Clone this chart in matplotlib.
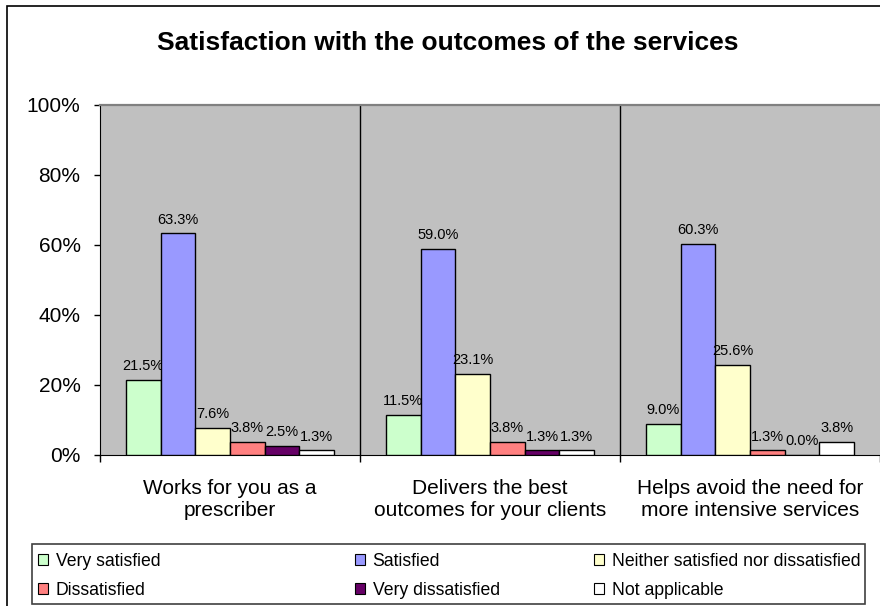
import numpy as np
import matplotlib
matplotlib.use('Agg')
import matplotlib.pyplot as plt
from matplotlib.ticker import PercentFormatter
from matplotlib.patches import Rectangle, Patch

plt.rcParams['font.family'] = ['Liberation Sans', 'DejaVu Sans']

#%% Data
categories = ['Works for you as a\nprescriber',
              'Delivers the best\noutcomes for your clients',
              'Helps avoid the need for\nmore intensive services']
series = ['Very satisfied', 'Satisfied', 'Neither satisfied nor dissatisfied',
          'Dissatisfied', 'Very dissatisfied', 'Not applicable']
very_satisfied = [21.5, 11.5, 9.0]
satisfied = [63.3, 59.0, 60.3]
neither = [7.6, 23.1, 25.6]
dissatisfied = [3.8, 3.8, 1.3]
very_dissatisfied = [2.5, 1.3, 0.0]
not_applicable = [1.3, 1.3, 3.8]
values = [very_satisfied, satisfied, neither, dissatisfied, very_dissatisfied, not_applicable]
colors = ['#CCFFCC', '#9999FF', '#FFFFCC', '#FF8080', '#660066', '#FFFFFF']

#%% Figure
fig = plt.figure(figsize=(8.8, 6.06), dpi=100)
ax = fig.add_axes([100/880, 1-455/606, 780/880, 350/606])
ax.set_facecolor('#C0C0C0')

# outer chart border (only top and left are inside the picture)
fig.patches.append(Rectangle((7/880, -0.1), 1.2, 1.1 - 6/606, transform=fig.transFigure,
                             fill=False, edgecolor='black', lw=1.2, zorder=0))

x = np.arange(len(categories))
w = 0.1333
for i, (vals, col) in enumerate(zip(values, colors)):
    pos = x + (i - 2.5) * w
    bars = ax.bar(pos, np.array(vals) / 100, width=w, color=col, edgecolor='black', lw=1.0, zorder=3)
    for b, v in zip(bars, vals):
        ax.annotate(f'{v:.1f}%', (b.get_x() + b.get_width() / 2, b.get_height()),
                    xytext=(0, 5), textcoords='offset points', ha='center', va='bottom',
                    fontsize=10.5)

ax.set_xlim(-0.5, 2.5)
ax.set_ylim(0, 1)
ax.yaxis.set_major_formatter(PercentFormatter(1.0, decimals=0))
ax.set_yticks(np.arange(0, 1.01, 0.2))
ax.tick_params(axis='y', direction='out', length=4, width=1, pad=10, labelsize=15)

ax.set_xticks([-0.5, 0.5, 1.5, 2.5])
ax.set_xticklabels([])
ax.tick_params(axis='x', which='major', direction='out', length=5, width=1)
ax.set_xticks(x, minor=True)
ax.set_xticklabels(categories, minor=True, fontsize=15)
ax.tick_params(axis='x', which='minor', length=0, pad=17)

for sep in [0.5, 1.5]:
    ax.axvline(sep, color='black', lw=1, zorder=2)

ax.spines['left'].set_color('black')
ax.spines['bottom'].set_color('black')
ax.spines['top'].set_color('#808080')
ax.spines['top'].set_linewidth(1.6)
ax.spines['right'].set_visible(False)

fig.text(448/880, 1-43/606, 'Satisfaction with the outcomes of the services',
         ha='center', va='center', fontsize=19, fontweight='bold')

#%% Legend
fig.patches.append(Rectangle((32/880, 1-604/606), 833/880, 60/606, transform=fig.transFigure,
                             fill=False, edgecolor='#404040', lw=1.2))
col_x = [38, 355, 594]
for c in range(3):
    handles = [Patch(facecolor=colors[k], edgecolor='black', lw=0.8, label=series[k])
               for k in (c, c + 3)]
    fig.legend(handles=handles, loc='upper left',
               bbox_to_anchor=(col_x[c]/880, 1-553/606), frameon=False,
               fontsize=12.7, handlelength=0.55, handleheight=0.55, handletextpad=0.45,
               labelspacing=0.68, borderpad=0, borderaxespad=0)

fig.savefig('out.png', dpi=100)
